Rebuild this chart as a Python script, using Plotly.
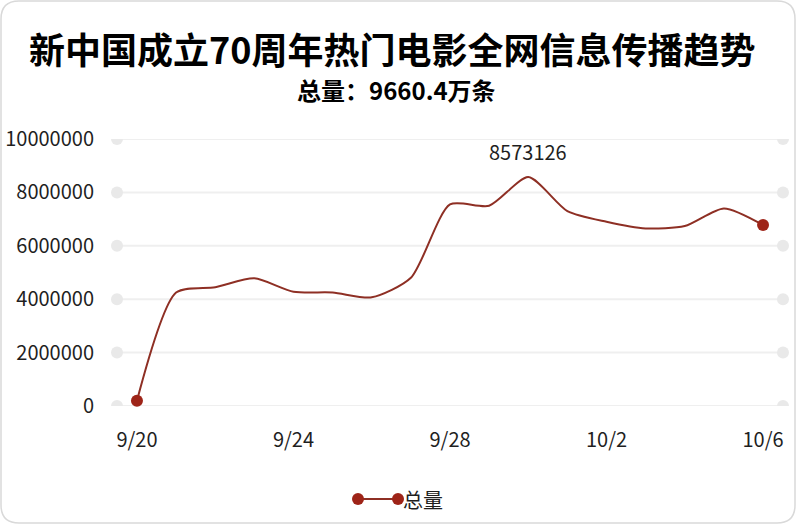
import plotly.graph_objects as go

# ---- data ----
dates = ["9/20", "9/21", "9/22", "9/23", "9/24", "9/25", "9/26", "9/27", "9/28",
         "9/29", "9/30", "10/1", "10/2", "10/3", "10/4", "10/5", "10/6"]
totals = [200000, 4250000, 4450000, 4780000, 4280000, 4250000, 4070000, 4800000, 7550000,
          7500000, 8573126, 7300000, 6900000, 6650000, 6740000, 7400000, 6780000]
x_tick_labels = ["9/20", "9/24", "9/28", "10/2", "10/6"]
y_tick_values = [0, 2000000, 4000000, 6000000, 8000000, 10000000]
series_name = "总量"
title_text = "新中国成立70周年热门电影全网信息传播趋势"
subtitle_text = "总量：9660.4万条"

# ---- layout geometry ----
W, H = 796, 524
L, R, T, B = 117, 13, 139, 118
PW, PH = W - L - R, H - T - B

def px(xp):
    return (xp - L) / PW

def py(yp):
    return (H - B - yp) / PH

FONT = "Noto Sans CJK SC, Noto Sans, sans-serif"
LINE_COLOR = "#8E2F24"
DOT_COLOR = "#9E2418"
GRID_COLOR = "#efefef"
GRID_DOT = "#e9e9e9"
TEXT = "#1f1f1f"

n = len(dates)
sizes = [12 if i in (0, n - 1) else 0 for i in range(n)]

fig = go.Figure()
fig.add_trace(go.Scatter(
    x=dates, y=totals, name=series_name, mode="lines+markers",
    line=dict(color=LINE_COLOR, width=2, shape="spline", smoothing=0.7),
    marker=dict(color=DOT_COLOR, size=sizes, opacity=1, line=dict(width=0)),
    cliponaxis=False, showlegend=False, hoverinfo="skip",
))

shapes = []
# gridlines with round end dots
for v in y_tick_values:
    shapes.append(dict(type="line", xref="paper", yref="y", x0=0, x1=1, y0=v, y1=v,
                       line=dict(color=GRID_COLOR, width=2), layer="below"))
    for xa in (0, 1):
        shapes.append(dict(type="circle", xref="paper", yref="y", xsizemode="pixel",
                           ysizemode="pixel", xanchor=xa, yanchor=v,
                           x0=-6, x1=6, y0=-6, y1=6,
                           fillcolor=GRID_DOT, line=dict(width=0), layer="below"))

# rounded card border
r = 18
x0b, x1b, y0b, y1b = 1, W - 1, 1, H - 1
def P(xp, yp):
    return f"{px(xp):.5f},{py(yp):.5f}"
path = (f"M {P(x0b + r, y0b)} L {P(x1b - r, y0b)} Q {P(x1b, y0b)} {P(x1b, y0b + r)} "
        f"L {P(x1b, y1b - r)} Q {P(x1b, y1b)} {P(x1b - r, y1b)} "
        f"L {P(x0b + r, y1b)} Q {P(x0b, y1b)} {P(x0b, y1b - r)} "
        f"L {P(x0b, y0b + r)} Q {P(x0b, y0b)} {P(x0b + r, y0b)} Z")
shapes.append(dict(type="path", xref="paper", yref="paper", path=path,
                   line=dict(color="#d9d9d9", width=1.5), layer="below"))

# custom legend symbol
ly = 499
shapes.append(dict(type="line", xref="paper", yref="paper", x0=px(358), x1=px(398),
                   y0=py(ly), y1=py(ly), line=dict(color=LINE_COLOR, width=2)))
for cx in (358, 398):
    shapes.append(dict(type="circle", xref="paper", yref="paper", xsizemode="pixel",
                       ysizemode="pixel", xanchor=px(cx), yanchor=py(ly),
                       x0=-6, x1=6, y0=-6, y1=6, fillcolor=DOT_COLOR, line=dict(width=0)))

imax = totals.index(max(totals))
annotations = [
    dict(text=f"<b>{title_text}</b>", xref="paper", yref="paper", x=px(W / 2 - 6), y=py(48),
         xanchor="center", yanchor="middle", showarrow=False,
         font=dict(family=FONT, size=36, color="#000000")),
    dict(text=f"<b>{subtitle_text}</b>", xref="paper", yref="paper", x=px(W / 2 - 2), y=py(89),
         xanchor="center", yanchor="middle", showarrow=False,
         font=dict(family=FONT, size=24, color="#000000")),
    dict(text=str(totals[imax]), x=dates[imax], y=totals[imax], xref="x", yref="y",
         yshift=26, showarrow=False, font=dict(family=FONT, size=20, color=TEXT)),
    dict(text=series_name, xref="paper", yref="paper", x=px(401), y=py(ly),
         xanchor="left", yanchor="middle", showarrow=False,
         font=dict(family=FONT, size=20, color=TEXT)),
]

fig.update_layout(
    width=W, height=H,
    margin=dict(l=L, r=R, t=T, b=B, pad=0, autoexpand=False),
    paper_bgcolor="white", plot_bgcolor="white",
    shapes=shapes, annotations=annotations, showlegend=False,
    font=dict(family=FONT, size=20, color=TEXT),
    xaxis=dict(type="category", range=[-0.51, n - 1 + 0.51], tickmode="array",
               tickvals=x_tick_labels, ticktext=x_tick_labels, showgrid=False,
               zeroline=False, showline=False, ticks="", ticklabelstandoff=20,
               automargin=False, tickfont=dict(family=FONT, size=20, color=TEXT)),
    yaxis=dict(range=[0, max(y_tick_values)], tickmode="array", tickvals=y_tick_values,
               ticktext=[str(v) for v in y_tick_values], showgrid=False, zeroline=False,
               showline=False, ticks="", ticklabelstandoff=22, automargin=False,
               tickfont=dict(family=FONT, size=20, color=TEXT)),
)

fig.write_html("out.html", config={"displayModeBar": False},
               post_script="document.body.style.margin='0px';document.body.style.padding='0px';")
